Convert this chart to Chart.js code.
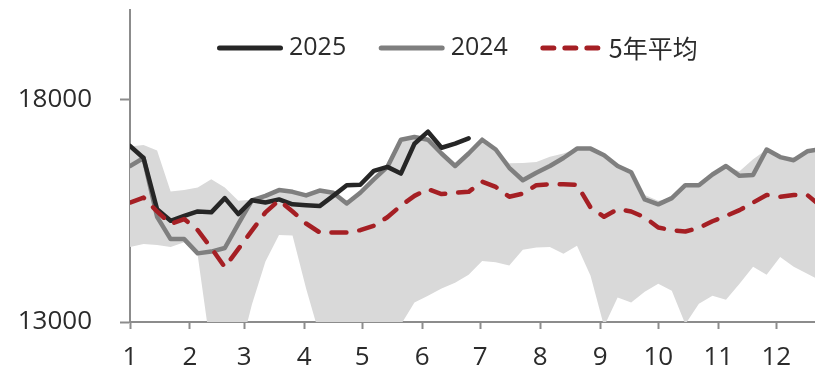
<!DOCTYPE html>
<html>
<head>
<meta charset="utf-8">
<script src="https://cdn.jsdelivr.net/npm/chart.js@4/dist/chart.umd.min.js"></script>
<style>
  html, body { margin: 0; padding: 0; background: #ffffff; }
  #c { display: block; }
</style>
</head>
<body>
<canvas id="c" width="815" height="370"></canvas>
<script>
// Week positions as day-of-year offsets (one point per week)
const weekDays = [0, 7, 14, 21, 28, 35, 42, 49, 56, 63, 70, 77, 84, 91, 98, 105, 112, 119, 126, 133,
  140, 147, 154, 161, 168, 175, 182, 189, 196, 203, 210, 217, 224, 231, 238, 245, 252, 259, 266, 273,
  280, 287, 294, 301, 308, 315, 322, 329, 336, 343, 350, 357];

// Month boundaries (day-of-year) and their labels
const monthStarts = [0, 31, 59, 90, 120, 151, 181, 212, 243, 273, 304, 334];
const monthLabels = ['1', '2', '3', '4', '5', '6', '7', '8', '9', '10', '11', '12'];

// Y-axis tick values
const yTicks = [13000, 18000];

const seriesNames = ['2025', '2024', '5年平均'];

const values2025 = [16950, 16680, 15530, 15270, 15380, 15480, 15460, 15780, 15420, 15730,
  15680, 15750, 15640, 15620, 15600, 15830, 16070, 16080, 16390, 16480,
  16330, 17000, 17270, 16910, 17000, 17120];

const values2024 = [16500, 16680, 15360, 14860, 14860, 14540, 14580, 14660, 15200, 15730,
  15830, 15960, 15920, 15840, 15950, 15900, 15660, 15900, 16200, 16480,
  17090, 17150, 17090, 16780, 16500, 16780, 17090, 16870, 16460, 16180,
  16350, 16500, 16680, 16890, 16890, 16740, 16500, 16360, 15750, 15640,
  15780, 16070, 16070, 16310, 16500, 16280, 16300, 16870, 16700, 16630,
  16830, 16880];

const avg5y = [15680, 15790, 15480, 15200, 15310, 15060, 14660, 14230, 14640, 15050,
  15460, 15730, 15480, 15210, 15010, 15010, 15010, 15060, 15160, 15350,
  15610, 15830, 15980, 15870, 15900, 15920, 16150, 16030, 15810, 15880,
  16070, 16090, 16090, 16080, 15570, 15360, 15530, 15480, 15350, 15120,
  15060, 15030, 15110, 15260, 15380, 15510, 15680, 15850, 15810, 15850,
  15850, 15600];

// Five-year range: weekly maximum and minimum
const rangeHigh = [16940, 16970, 16850, 15930, 15960, 16020, 16200, 16020, 15720, 15740,
  15860, 15960, 15920, 15840, 15950, 15900, 15660, 15900, 16200, 16480,
  17090, 17150, 17090, 16780, 16500, 16780, 17090, 16870, 16560, 16570,
  16590, 16710, 16780, 16890, 16890, 16740, 16500, 16380, 15850, 15720,
  15780, 16070, 16070, 16310, 16500, 16380, 16650, 16870, 16700, 16630,
  16830, 16880];

const rangeLow = [14680, 14750, 14730, 14680, 14790, 14490, 12320, 12200, 12200, 13390,
  14360, 14950, 14940, 13750, 12700, 12500, 12500, 12500, 12500, 12500,
  12940, 13440, 13590, 13750, 13880, 14060, 14370, 14340, 14270, 14620,
  14670, 14680, 14530, 14710, 14040, 12900, 13550, 13440, 13680, 13860,
  13700, 12950, 13410, 13590, 13500, 13860, 14240, 14060, 14460, 14240,
  14080, 13930];

const toPoints = (vals) => vals.map((v, i) => ({ x: weekDays[i], y: v }));

const FONT = "'Open Sans', 'Noto Sans CJK SC', sans-serif";
const CJK_FONT = "'Noto Sans CJK SC', 'Open Sans', sans-serif";
const TEXT = '#2b2b2b';
const AXIS = '#8c8c8c';

// Legend row: a line sample followed by the series name, for the three series
const lineLegend = {
  id: 'lineLegend',
  afterDraw(chart) {
    const ctx = chart.ctx;
    const y = 48;
    const sampleLen = [61, 61, 55];
    const textGap = [8.5, 8.5, 11];
    const fontSize = [25, 25, 25];
    const itemGap = 35;
    let x = 219.5;
    ctx.save();
    ctx.textBaseline = 'middle';
    ctx.textAlign = 'left';
    [0, 1, 2].forEach((i) => {
      const ds = chart.data.datasets[i];
      ctx.strokeStyle = ds.borderColor;
      ctx.lineWidth = 5;
      ctx.lineCap = 'round';
      ctx.setLineDash(i === 2 ? [11, 11] : []);
      ctx.beginPath();
      ctx.moveTo(x, y);
      ctx.lineTo(x + sampleLen[i], y);
      ctx.stroke();
      ctx.setLineDash([]);
      ctx.font = fontSize[i] + 'px ' + (/^[0-9]+$/.test(ds.label) ? FONT : CJK_FONT);
      ctx.fillStyle = TEXT;
      const tx = x + sampleLen[i] + textGap[i];
      ctx.fillText(ds.label, tx, y);
      x = tx + ctx.measureText(ds.label).width + itemGap;
    });
    ctx.restore();
  }
};

new Chart(document.getElementById('c'), {
  type: 'line',
  data: {
    datasets: [
      {
        label: seriesNames[0],
        data: toPoints(values2025),
        borderColor: '#262626',
        borderWidth: 4.5,
        pointRadius: 0,
        tension: 0,
        fill: false,
        borderJoinStyle: 'round',
        borderCapStyle: 'round',
        order: 2
      },
      {
        label: seriesNames[1],
        data: toPoints(values2024),
        borderColor: '#7f7f7f',
        borderWidth: 4.5,
        pointRadius: 0,
        tension: 0,
        fill: false,
        borderJoinStyle: 'round',
        borderCapStyle: 'round',
        order: 3
      },
      {
        label: seriesNames[2],
        data: toPoints(avg5y),
        borderColor: '#a51f24',
        borderWidth: 4.5,
        borderDash: [15, 13],
        pointRadius: 0,
        tension: 0,
        fill: false,
        borderJoinStyle: 'round',
        borderCapStyle: 'round',
        order: 1
      },
      {
        label: 'rangeHigh',
        data: toPoints(rangeHigh),
        borderWidth: 0,
        borderColor: 'rgba(0,0,0,0)',
        backgroundColor: '#d9d9d9',
        pointRadius: 0,
        tension: 0,
        fill: '+1',
        order: 4
      },
      {
        label: 'rangeLow',
        data: toPoints(rangeLow),
        borderWidth: 0,
        borderColor: 'rgba(0,0,0,0)',
        pointRadius: 0,
        tension: 0,
        fill: false,
        order: 5
      }
    ]
  },
  options: {
    responsive: false,
    devicePixelRatio: 1,
    animation: false,
    events: [],
    layout: { padding: { top: 10, right: 0, bottom: 0, left: 0 } },
    plugins: {
      tooltip: { enabled: false },
      legend: { display: false }
    },
    scales: {
      x: {
        type: 'linear',
        min: 0,
        max: 354,
        afterBuildTicks(scale) {
          scale.ticks = monthStarts.map((v) => ({ value: v }));
        },
        afterFit(scale) {
          scale.height = 48;
          scale.paddingLeft = 0;
          scale.paddingRight = 0;
        },
        ticks: {
          autoSkip: false,
          maxRotation: 0,
          padding: 13,
          color: TEXT,
          font: { family: FONT, size: 26 },
          callback(value) {
            const idx = monthStarts.indexOf(value);
            return idx >= 0 ? monthLabels[idx] : '';
          }
        },
        grid: {
          display: true,
          drawOnChartArea: false,
          drawTicks: true,
          tickLength: 7,
          tickWidth: 2,
          tickColor: AXIS
        },
        border: { display: true, color: AXIS, width: 2 }
      },
      y: {
        type: 'linear',
        min: 13000,
        max: 20000,
        afterBuildTicks(scale) {
          scale.ticks = yTicks.map((v) => ({ value: v }));
        },
        afterFit(scale) {
          scale.width = 130;
          scale.paddingTop = 0;
          scale.paddingBottom = 0;
        },
        ticks: {
          padding: 28,
          color: TEXT,
          font: { family: FONT, size: 26 },
          callback(value) { return String(value); }
        },
        grid: {
          display: true,
          drawOnChartArea: false,
          drawTicks: true,
          tickLength: 10,
          tickWidth: 2,
          tickColor: AXIS
        },
        border: { display: true, color: AXIS, width: 2 }
      }
    }
  },
  plugins: [lineLegend]
});
</script>
</body>
</html>
